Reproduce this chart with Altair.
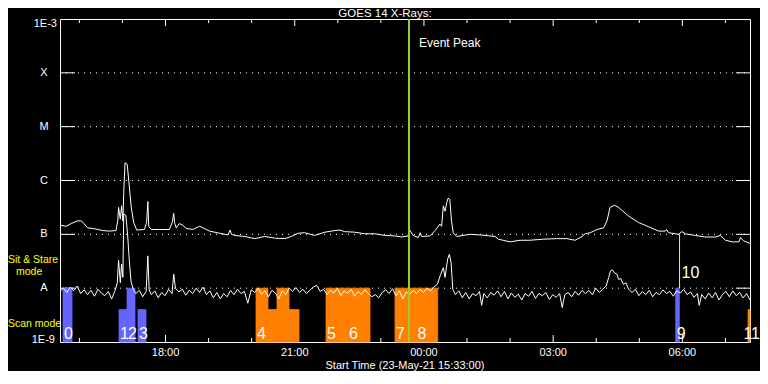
import altair as alt
import pandas as pd

# ---------------- data ----------------
# time axis: hours after 23-May-21 15:33:00 ; flux given as log10(W/m^2)
title_text = "GOES 14 X-Rays:"
x_title = "Start Time (23-May-21 15:33:00)"

long_t = [0.0, 0.14, 0.26, 0.40, 0.49, 0.57, 0.64, 0.76, 0.88, 0.99, 1.15, 1.30, 1.34, 1.36, 1.40, 1.43,
          1.46, 1.48, 1.51, 1.56, 1.60, 1.65, 1.71, 1.78, 1.96, 2.01, 2.04, 2.06, 2.12, 2.31, 2.54, 2.61,
          2.64, 2.66, 2.70, 2.77, 2.85, 2.93, 3.08, 3.24, 3.32, 3.47, 3.71, 3.90, 3.95, 3.98, 4.05, 4.29,
          4.52, 4.75, 4.98, 5.22, 5.37, 5.53, 5.68, 5.91, 6.15, 6.38, 6.50, 6.61, 6.84, 7.08, 7.31, 7.54,
          7.77, 7.93, 8.08, 8.12, 8.20, 8.32, 8.36, 8.40, 8.59, 8.71, 8.82, 8.86, 8.90, 8.94, 8.98, 9.01,
          9.05, 9.09, 9.13, 9.21, 9.36, 9.52, 9.75, 9.98, 10.10, 10.18, 10.45, 10.68, 10.91, 11.22, 11.53,
          11.77, 11.96, 12.12, 12.19, 12.31, 12.47, 12.62, 12.70, 12.77, 12.87, 12.97, 13.20, 13.43, 13.67,
          13.90, 14.05, 14.08, 14.13, 14.36, 14.44, 14.52, 14.75, 14.98, 15.22, 15.33, 15.45, 15.61, 15.76,
          15.80, 15.87, 16.02]
long_log = [-6.83, -6.85, -6.80, -6.75, -6.75, -6.81, -6.88, -6.89, -6.91, -6.93, -6.94, -6.93, -6.75, -6.50,
            -6.72, -6.47, -6.75, -6.22, -5.67, -5.70, -6.03, -6.47, -6.78, -6.92, -6.91, -6.78, -6.39, -6.85,
            -6.91, -6.91, -6.91, -6.77, -6.61, -6.78, -6.88, -6.80, -6.83, -6.89, -6.91, -6.85, -6.88, -6.94,
            -6.98, -7.01, -6.92, -7.00, -7.02, -7.04, -7.08, -7.04, -7.07, -7.08, -7.04, -6.98, -6.97, -7.02,
            -6.96, -6.93, -6.92, -6.95, -6.96, -6.99, -6.99, -7.02, -7.03, -7.05, -7.03, -6.92, -7.02, -7.06,
            -6.97, -7.04, -7.03, -6.93, -6.81, -6.85, -6.47, -6.57, -6.41, -6.33, -6.35, -6.75, -6.97, -7.04,
            -7.02, -7.00, -7.01, -7.03, -7.04, -7.09, -7.14, -7.11, -7.11, -7.09, -7.08, -7.08, -7.11, -7.04,
            -6.99, -6.97, -6.91, -6.88, -6.75, -6.50, -6.46, -6.50, -6.66, -6.78, -6.86, -6.94, -6.94, -6.91,
            -6.97, -7.00, -6.95, -6.99, -7.02, -7.05, -7.05, -7.02, -7.11, -7.14, -7.14, -7.06, -7.12, -7.17]

short_channel = [
    (0.00, -8.06), (0.08, -8.00), (0.16, -8.08), (0.24, -7.98), (0.32, -8.05), (0.40, -7.96), (0.48, -8.10),
    (0.56, -8.03), (0.64, -8.12), (0.72, -8.04), (0.80, -8.15), (0.88, -8.02), (0.96, -8.09), (1.04, -8.14),
    (1.12, -8.06), (1.20, -8.20), (1.28, -8.04), (1.33, -7.90), (1.36, -7.48), (1.40, -7.90), (1.43, -7.55),
    (1.46, -7.80), (1.48, -6.62), (1.53, -6.65), (1.57, -7.01), (1.61, -7.50), (1.65, -7.88), (1.70, -8.02),
    (1.76, -8.10), (1.84, -8.04), (1.92, -8.16), (2.00, -8.06), (2.04, -7.40), (2.07, -8.03), (2.12, -8.12),
    (2.20, -8.05), (2.28, -8.18), (2.36, -8.08), (2.44, -8.14), (2.52, -8.02), (2.60, -8.10), (2.64, -7.74),
    (2.68, -8.00), (2.76, -8.07), (2.84, -8.02), (2.92, -8.13), (3.00, -8.04), (3.08, -8.10), (3.16, -8.00),
    (3.24, -8.08), (3.32, -7.98), (3.40, -8.12), (3.48, -8.05), (3.56, -8.18), (3.64, -8.08), (3.72, -8.20),
    (3.80, -8.10), (3.88, -8.16), (3.96, -8.04), (4.04, -8.12), (4.12, -8.02), (4.20, -8.10), (4.28, -8.06),
    (4.36, -8.28), (4.44, -8.03), (4.52, -8.08), (4.60, -8.00), (4.68, -8.11), (4.76, -8.05), (4.84, -8.16),
    (4.92, -8.04), (5.00, -8.09), (5.08, -8.20), (5.16, -8.05), (5.24, -8.12), (5.32, -8.00), (5.40, -8.06),
    (5.48, -7.99), (5.56, -8.08), (5.64, -8.02), (5.72, -8.10), (5.80, -8.04), (5.88, -7.98), (5.96, -7.95),
    (6.04, -8.06), (6.12, -8.02), (6.20, -8.12), (6.28, -8.04), (6.36, -8.09), (6.44, -8.00), (6.52, -8.14),
    (6.60, -8.05), (6.68, -8.10), (6.76, -8.02), (6.84, -8.15), (6.92, -8.06), (7.00, -8.12), (7.08, -8.03),
    (7.16, -8.10), (7.24, -8.16), (7.32, -8.12), (7.40, -8.18), (7.48, -8.08), (7.56, -8.03), (7.64, -8.10),
    (7.72, -8.01), (7.80, -8.14), (7.88, -8.05), (7.96, -8.20), (8.04, -8.07), (8.12, -8.12), (8.20, -8.04),
    (8.28, -8.10), (8.36, -8.02), (8.44, -8.08), (8.52, -8.00), (8.60, -8.05), (8.68, -7.98), (8.76, -7.93),
    (8.84, -7.74), (8.90, -7.62), (8.94, -7.80), (9.00, -7.46), (9.04, -7.37), (9.08, -7.52), (9.12, -8.02),
    (9.18, -8.12), (9.26, -8.05), (9.34, -8.18), (9.42, -8.08), (9.50, -8.20), (9.58, -8.10), (9.66, -8.14),
    (9.74, -8.06), (9.79, -8.32), (9.84, -8.10), (9.92, -8.18), (10.00, -8.08), (10.08, -8.13), (10.16, -8.05),
    (10.24, -8.16), (10.32, -8.06), (10.40, -8.20), (10.48, -8.09), (10.56, -8.17), (10.64, -8.11),
    (10.72, -8.22), (10.80, -8.10), (10.88, -8.15), (10.96, -8.06), (11.04, -8.19), (11.12, -8.10),
    (11.20, -8.14), (11.28, -8.08), (11.36, -8.21), (11.44, -8.12), (11.52, -8.17), (11.60, -8.10),
    (11.66, -8.36), (11.72, -8.12), (11.80, -8.08), (11.88, -8.16), (11.96, -8.06), (12.04, -8.13),
    (12.12, -8.04), (12.20, -8.10), (12.28, -8.04), (12.36, -8.12), (12.44, -8.00), (12.52, -8.08),
    (12.60, -8.02), (12.68, -7.96), (12.74, -7.80), (12.78, -7.68), (12.82, -7.66), (12.88, -7.72),
    (12.93, -7.74), (12.97, -7.84), (13.02, -7.82), (13.08, -7.93), (13.14, -7.90), (13.20, -8.02),
    (13.28, -8.08), (13.36, -8.02), (13.44, -8.14), (13.52, -8.06), (13.60, -8.12), (13.68, -8.04),
    (13.76, -8.16), (13.84, -8.08), (13.92, -8.12), (14.00, -8.03), (14.08, -8.10), (14.16, -8.06),
    (14.24, -8.15), (14.32, -8.05), (14.40, -8.09), (14.48, -8.02), (14.56, -8.12), (14.64, -8.07),
    (14.72, -8.17), (14.80, -8.10), (14.84, -8.32), (14.90, -8.12), (14.98, -8.20), (15.06, -8.09),
    (15.14, -8.18), (15.22, -8.08), (15.30, -8.22), (15.38, -8.12), (15.46, -8.06), (15.54, -8.16),
    (15.62, -8.05), (15.70, -8.14), (15.78, -8.08), (15.86, -8.18), (15.94, -8.10), (16.02, -8.22),
]

level_flux = [1e-3, 1e-4, 1e-5, 1e-6, 1e-7, 1e-8, 1e-9]
level_names = ["1E-3", "X", "M", "C", "B", "A", "1E-9"]

hour_ticks = [0.45, 1.45, 3.45, 4.45, 6.45, 7.45, 9.45, 10.45, 12.45, 13.45, 15.45]
label_ticks = [2.45, 5.45, 8.45, 11.45, 14.45]
label_text = ["18:00", "21:00", "00:00", "03:00", "06:00"]

bar_start = [0.070, 1.370, 1.556, 1.811, 4.551, 4.829, 5.038, 5.317, 6.176, 6.687, 7.778, 8.277, 14.295, 15.974]
bar_end = [0.279, 1.556, 1.741, 1.997, 4.829, 5.038, 5.317, 5.549, 6.687, 7.198, 8.277, 8.769, 14.379, 16.02]
bar_mode = ["stare", "scan", "stare", "scan", "stare", "scan", "stare", "scan", "stare", "stare", "stare",
            "stare", "stare", "scan"]
bar_kind = ["blue", "blue", "blue", "blue", "orange", "orange", "orange", "orange", "orange", "orange",
            "orange", "orange", "blue", "orange"]
bar_label = ["0", "1", "2", "3", "4", "", "", "", "5", "6", "7", "8", "9", "11"]
mode_top = {"stare": 1e-8, "scan": 4e-9}

event_peak_t = 8.103
marker10_t = 14.384
marker10_flux = [1e-7, 1e-8]
mode_texts = ["Sit & Stare", "mode", "Scan mode"]

# ---------------- chart ----------------
W, H = 690, 323
T_END = 16.02
FONT = "Liberation Sans"
xs = alt.Scale(domain=[0, T_END], nice=False, zero=False)
ys = alt.Scale(type="log", domain=[1e-9, 1e-3], nice=False)

curves = pd.concat([
    pd.DataFrame({"t": long_t, "flux": [10 ** v for v in long_log], "ch": "long"}),
    pd.DataFrame({"t": [p[0] for p in short_channel], "flux": [10 ** p[1] for p in short_channel], "ch": "short"}),
])
levels = pd.DataFrame({"flux": level_flux, "name": level_names})
inner = levels.iloc[1:6]
bars = pd.DataFrame({"start": bar_start, "end": bar_end, "kind": bar_kind, "label": bar_label,
                     "top": [mode_top[m] for m in bar_mode], "floor": 1e-9})
xlab = pd.DataFrame({"t": label_ticks, "s": label_text})

X = lambda f: alt.X(f, scale=xs, axis=None)
Y = lambda f: alt.Y(f, scale=ys, axis=None)

grid = alt.Chart(inner).mark_rule(color="white", strokeDash=[1, 5], strokeWidth=1).encode(
    y=Y("flux:Q"), x=alt.value(0), x2=alt.value(W))
ytl = alt.Chart(inner).mark_rule(color="white").encode(y=Y("flux:Q"), x=alt.value(0), x2=alt.value(15))
ytr = alt.Chart(inner).mark_rule(color="white").encode(y=Y("flux:Q"), x=alt.value(W - 14), x2=alt.value(W))

minor = pd.DataFrame({"t": hour_ticks})
major = pd.DataFrame({"t": label_ticks})
tb1 = alt.Chart(minor).mark_rule(color="white").encode(x=X("t:Q"), y=alt.value(H), y2=alt.value(H - 4))
tb2 = alt.Chart(major).mark_rule(color="white").encode(x=X("t:Q"), y=alt.value(H), y2=alt.value(H - 7))
tt1 = alt.Chart(minor).mark_rule(color="white").encode(x=X("t:Q"), y=alt.value(0), y2=alt.value(4))
tt2 = alt.Chart(major).mark_rule(color="white").encode(x=X("t:Q"), y=alt.value(0), y2=alt.value(7))

bar_colors = alt.Scale(domain=["blue", "orange"], range=["#6464ff", "#ff8000"])
rects = alt.Chart(bars).mark_rect(strokeWidth=0.8).encode(
    x=X("start:Q"), x2="end:Q", y=Y("floor:Q"), y2="top:Q",
    color=alt.Color("kind:N", scale=bar_colors, legend=None),
    stroke=alt.Stroke("kind:N", scale=bar_colors, legend=None))

lines = alt.Chart(curves).mark_line(color="white", strokeWidth=1, clip=True).encode(
    x=X("t:Q"), y=Y("flux:Q"), detail="ch:N")

ev = pd.DataFrame({"t": [event_peak_t]})
event_rule = alt.Chart(ev).mark_rule(color="#9acd32", strokeWidth=2).encode(x=X("t:Q"))
event_text = alt.Chart(ev).mark_text(text="Event Peak", align="left", baseline="alphabetic", dx=10,
                                     color="white", font=FONT, fontSize=12).encode(x=X("t:Q"), y=alt.value(28))

m10 = pd.DataFrame({"t": [marker10_t], "hi": [marker10_flux[0]], "lo": [marker10_flux[1]]})
m10_rule = alt.Chart(m10).mark_rule(color="#ffff00").encode(x=X("t:Q"), y=Y("hi:Q"), y2="lo:Q")
m10_text = alt.Chart(m10).mark_text(text="10", align="left", baseline="middle", dx=2, color="white",
                                    font=FONT, fontSize=16).encode(x=X("t:Q"), y=alt.value(254))

inside = bars[(bars.label != "") & (bars.end < T_END)]
edge = bars[(bars.label != "") & (bars.end >= T_END)]
blabels = alt.Chart(inside).mark_text(align="left", baseline="alphabetic", dx=1, color="white",
                                      font=FONT, fontSize=16).encode(
    x=X("start:Q"), y=alt.value(H - 3), text="label:N")
blabels_edge = alt.Chart(edge).mark_text(align="right", baseline="alphabetic", dx=10, color="white",
                                         font=FONT, fontSize=16).encode(
    x=X("end:Q"), y=alt.value(H - 3), text="label:N")

ylet = alt.Chart(inner).mark_text(align="center", baseline="middle", color="white", font=FONT, fontSize=11).encode(
    x=alt.value(-16), y=Y("flux:Q"), text="name:N")
ytop = alt.Chart(levels.iloc[[0]]).mark_text(align="right", baseline="alphabetic", color="white", font=FONT,
                                              fontSize=11).encode(x=alt.value(-3), y=alt.value(8), text="name:N")
ybot = alt.Chart(levels.iloc[[6]]).mark_text(align="right", baseline="alphabetic", color="white", font=FONT,
                                              fontSize=11).encode(x=alt.value(-5), y=alt.value(H + 1), text="name:N")

xlabels = alt.Chart(xlab).mark_text(align="center", baseline="alphabetic", color="white", font=FONT,
                                    fontSize=11).encode(x=X("t:Q"), y=alt.value(H + 14), text="s:N")


def label(s, x, y, color="white", size=11, align="left"):
    return alt.Chart(pd.DataFrame({"s": [s]})).mark_text(align=align, baseline="alphabetic", color=color,
                                                         font=FONT, fontSize=size).encode(
        x=alt.value(x), y=alt.value(y), text="s:N")


chart = alt.layer(
    grid, ytl, ytr, tb1, tb2, tt1, tt2, rects, lines, event_rule, m10_rule,
    event_text, m10_text, blabels, blabels_edge, ylet, ytop, ybot, xlabels,
    label(mode_texts[0], -52, 244, "#ffff00", 10.5), label(mode_texts[1], -44, 256, "#ffff00", 10.5),
    label(mode_texts[2], -52, 308, "#ffff00", 10.5),
    label(title_text, 325, -2, size=11.5, align="center"),
    label(x_title, W / 2, H + 27, align="center"),
).properties(
    width=W, height=H, autosize=alt.AutoSizeParams(type="none"),
    padding={"left": 52, "top": 11, "right": 10, "bottom": 29},
).configure(background="black").configure_view(stroke="white", strokeWidth=1)

chart.save("out.html", embed_options={"renderer": "svg", "actions": False})
